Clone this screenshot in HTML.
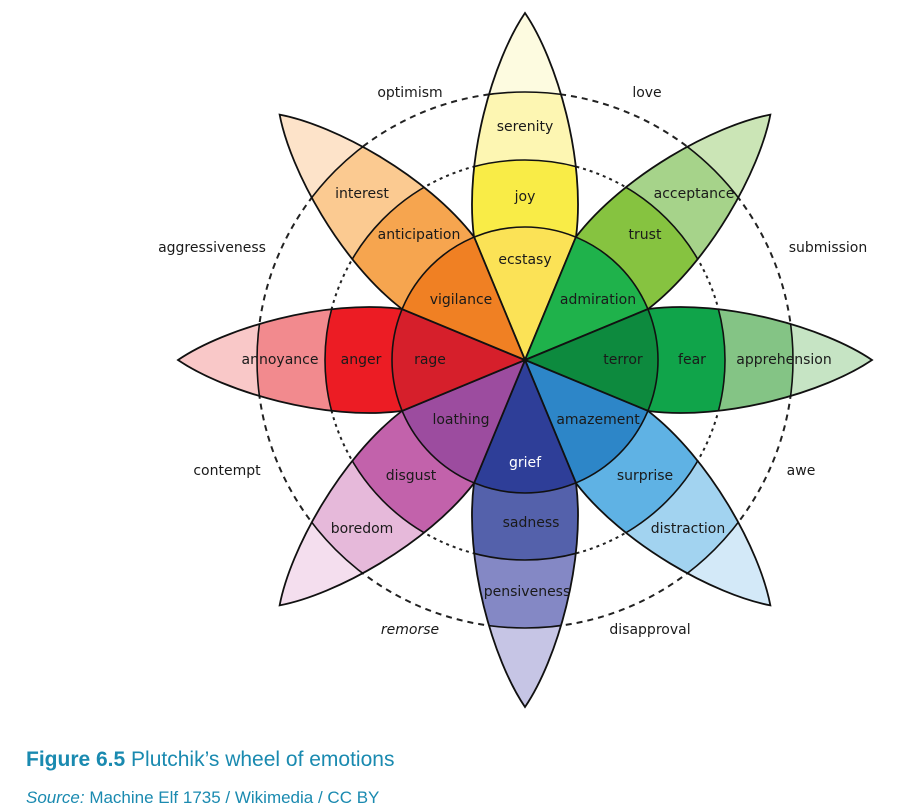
<!DOCTYPE html>
<html><head><meta charset="utf-8"><style>
html,body{margin:0;padding:0;background:#fff;width:905px;height:810px;overflow:hidden}
svg{display:block}
</style></head><body>
<svg width="905" height="810" viewBox="0 0 905 810" xmlns="http://www.w3.org/2000/svg">
<defs>
<path id="pt" d="M0,0 L123,-51 C200,-61 300,-32 347,0 C300,32 200,61 123,51 Z"/>
<clipPath id="cp"><use href="#pt"/></clipPath>
</defs>
<g transform="translate(525,360)">
<circle r="268" fill="none" stroke="#222" stroke-width="2" stroke-dasharray="6,5"/>
<circle r="200" fill="none" stroke="#222" stroke-width="2" stroke-dasharray="3,4"/>
</g>
<g id="petals">
<g transform="translate(525,360) rotate(-90)"><g clip-path="url(#cp)"><use href="#pt" fill="#fdfbe0"/><circle r="268" fill="#fdf6b2"/><circle r="200" fill="#f9ec47"/><circle r="133" fill="#fbe256"/><circle r="268" fill="none" stroke="#111" stroke-width="1.6"/><circle r="200" fill="none" stroke="#111" stroke-width="1.6"/><circle r="133" fill="none" stroke="#111" stroke-width="1.6"/></g><use href="#pt" fill="none" stroke="#111" stroke-width="1.8"/></g>
<g transform="translate(525,360) rotate(-45)"><g clip-path="url(#cp)"><use href="#pt" fill="#cbe5b6"/><circle r="268" fill="#a6d38a"/><circle r="200" fill="#86c340"/><circle r="133" fill="#1fb24b"/><circle r="268" fill="none" stroke="#111" stroke-width="1.6"/><circle r="200" fill="none" stroke="#111" stroke-width="1.6"/><circle r="133" fill="none" stroke="#111" stroke-width="1.6"/></g><use href="#pt" fill="none" stroke="#111" stroke-width="1.8"/></g>
<g transform="translate(525,360) rotate(0)"><g clip-path="url(#cp)"><use href="#pt" fill="#c6e4c4"/><circle r="268" fill="#84c485"/><circle r="200" fill="#10a44a"/><circle r="133" fill="#0d8a3e"/><circle r="268" fill="none" stroke="#111" stroke-width="1.6"/><circle r="200" fill="none" stroke="#111" stroke-width="1.6"/><circle r="133" fill="none" stroke="#111" stroke-width="1.6"/></g><use href="#pt" fill="none" stroke="#111" stroke-width="1.8"/></g>
<g transform="translate(525,360) rotate(45)"><g clip-path="url(#cp)"><use href="#pt" fill="#d3e9f8"/><circle r="268" fill="#a2d3f0"/><circle r="200" fill="#5fb2e4"/><circle r="133" fill="#2d86c8"/><circle r="268" fill="none" stroke="#111" stroke-width="1.6"/><circle r="200" fill="none" stroke="#111" stroke-width="1.6"/><circle r="133" fill="none" stroke="#111" stroke-width="1.6"/></g><use href="#pt" fill="none" stroke="#111" stroke-width="1.8"/></g>
<g transform="translate(525,360) rotate(90)"><g clip-path="url(#cp)"><use href="#pt" fill="#c6c5e5"/><circle r="268" fill="#8488c5"/><circle r="200" fill="#5461ab"/><circle r="133" fill="#2e3e98"/><circle r="268" fill="none" stroke="#111" stroke-width="1.6"/><circle r="200" fill="none" stroke="#111" stroke-width="1.6"/><circle r="133" fill="none" stroke="#111" stroke-width="1.6"/></g><use href="#pt" fill="none" stroke="#111" stroke-width="1.8"/></g>
<g transform="translate(525,360) rotate(135)"><g clip-path="url(#cp)"><use href="#pt" fill="#f4deee"/><circle r="268" fill="#e6b9da"/><circle r="200" fill="#c262ab"/><circle r="133" fill="#9c4c9f"/><circle r="268" fill="none" stroke="#111" stroke-width="1.6"/><circle r="200" fill="none" stroke="#111" stroke-width="1.6"/><circle r="133" fill="none" stroke="#111" stroke-width="1.6"/></g><use href="#pt" fill="none" stroke="#111" stroke-width="1.8"/></g>
<g transform="translate(525,360) rotate(180)"><g clip-path="url(#cp)"><use href="#pt" fill="#f9c8c8"/><circle r="268" fill="#f28a8e"/><circle r="200" fill="#ec1c24"/><circle r="133" fill="#d61f2b"/><circle r="268" fill="none" stroke="#111" stroke-width="1.6"/><circle r="200" fill="none" stroke="#111" stroke-width="1.6"/><circle r="133" fill="none" stroke="#111" stroke-width="1.6"/></g><use href="#pt" fill="none" stroke="#111" stroke-width="1.8"/></g>
<g transform="translate(525,360) rotate(-135)"><g clip-path="url(#cp)"><use href="#pt" fill="#fde3c9"/><circle r="268" fill="#fbca91"/><circle r="200" fill="#f6a54f"/><circle r="133" fill="#f08023"/><circle r="268" fill="none" stroke="#111" stroke-width="1.6"/><circle r="200" fill="none" stroke="#111" stroke-width="1.6"/><circle r="133" fill="none" stroke="#111" stroke-width="1.6"/></g><use href="#pt" fill="none" stroke="#111" stroke-width="1.8"/></g>
</g>
<g font-family="'DejaVu Sans','Liberation Sans',sans-serif" font-size="14" fill="#1a1a1a" text-anchor="middle">
<text x="525" y="131">serenity</text>
<text x="525" y="201">joy</text>
<text x="525" y="264">ecstasy</text>
<text x="694" y="198">acceptance</text>
<text x="645" y="239">trust</text>
<text x="598" y="304">admiration</text>
<text x="623" y="364">terror</text>
<text x="692" y="364">fear</text>
<text x="784" y="364">apprehension</text>
<text x="598" y="424">amazement</text>
<text x="645" y="480">surprise</text>
<text x="688" y="533">distraction</text>
<text x="525" y="467" fill="#fff">grief</text>
<text x="531" y="527">sadness</text>
<text x="527" y="596">pensiveness</text>
<text x="461" y="424">loathing</text>
<text x="411" y="480">disgust</text>
<text x="362" y="533">boredom</text>
<text x="430" y="364">rage</text>
<text x="361" y="364">anger</text>
<text x="280" y="364">annoyance</text>
<text x="461" y="304">vigilance</text>
<text x="419" y="239">anticipation</text>
<text x="362" y="198">interest</text>
<text x="410" y="97">optimism</text>
<text x="647" y="97">love</text>
<text x="212" y="252">aggressiveness</text>
<text x="828" y="252">submission</text>
<text x="227" y="475">contempt</text>
<text x="801" y="475">awe</text>
<text x="410" y="634" font-style="italic">remorse</text>
<text x="650" y="634">disapproval</text>
</g>
<g font-family="'Liberation Sans',sans-serif" fill="#1a8ab0">
<text x="26" y="766" font-size="21"><tspan font-weight="bold">Figure 6.5</tspan>  Plutchik’s wheel of emotions</text>
<text x="26" y="803" font-size="17"><tspan font-style="italic">Source:</tspan> Machine Elf 1735 / Wikimedia / CC BY</text>
</g>
</svg>
</body></html>
